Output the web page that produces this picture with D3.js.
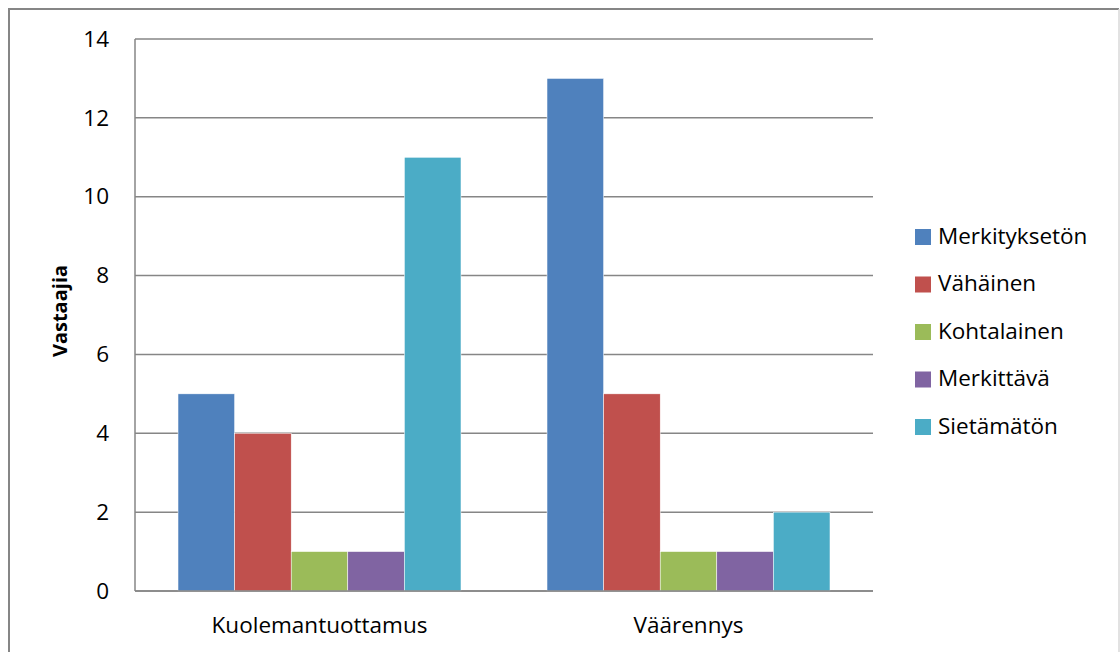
<!DOCTYPE html>
<html><head><meta charset="utf-8">
<script src="https://cdn.jsdelivr.net/npm/d3@7"></script>
<style>body{margin:0;background:#fff}svg{display:block}text{font-family:"Open Sans","Lato",sans-serif}</style>
</head><body>
<svg id="c" width="1120" height="652"></svg>
<script>
const categories = ["Kuolemantuottamus", "Väärennys"];
const seriesNames = ["Merkityksetön", "Vähäinen", "Kohtalainen", "Merkittävä", "Sietämätön"];
const seriesColors = ["#4f81bd", "#c0504d", "#9bbb59", "#8064a2", "#4bacc6"];
const merkitykseton = [5, 13];
const vahainen = [4, 5];
const kohtalainen = [1, 1];
const merkittava = [1, 1];
const sietamaton = [11, 2];
const yTicks = [0, 2, 4, 6, 8, 10, 12, 14];
const yTitle = "Vastaajia";

const seriesValues = [merkitykseton, vahainen, kohtalainen, merkittava, sietamaton];
const FS = 22.5;
const svg = d3.select("#c");
// outer frame
svg.append("path").attr("d","M9,652 V9 H1119").attr("fill","none").attr("stroke","#868686").attr("stroke-width",2);
svg.append("line").attr("x1",1119).attr("x2",1119).attr("y1",9).attr("y2",652).attr("stroke","#d9d9d9").attr("stroke-width",1.5);

const L=135, R=873, T=39, B=591;
const x0 = d3.scaleBand().domain(categories).range([L,R]).paddingInner(0).paddingOuter(0);
const inner = d3.scaleBand().domain(seriesNames).range([0,x0.bandwidth()]).paddingInner(0).paddingOuter(0.76);
const y = d3.scaleLinear().domain([0,14]).range([B,T]);

// gridlines
svg.append("g").selectAll("line").data(yTicks).join("line")
  .attr("x1",L).attr("x2",R).attr("y1",d=>y(d)).attr("y2",d=>y(d))
  .attr("stroke","#868686").attr("stroke-width",1.5);

// bars
const g = svg.append("g");
categories.forEach((c,ci)=>{
  seriesNames.forEach((s,si)=>{
    g.append("rect").attr("x",x0(c)+inner(s)).attr("width",inner.bandwidth())
      .attr("y",y(seriesValues[si][ci])).attr("height",B-y(seriesValues[si][ci]))
      .attr("fill",seriesColors[si]).attr("stroke","#fff").attr("stroke-width",0.5);
  });
});

// axes lines
svg.append("line").attr("x1",L).attr("x2",L).attr("y1",T).attr("y2",B).attr("stroke","#868686").attr("stroke-width",1.5);
svg.append("line").attr("x1",L).attr("x2",R).attr("y1",B).attr("y2",B).attr("stroke","#868686").attr("stroke-width",1.5);

// y tick labels
const ya = d3.axisLeft(y).tickValues(yTicks).tickSize(0).tickPadding(0).tickFormat(d3.format("d"));
const yg = svg.append("g").attr("transform",`translate(${L-26},0)`).call(ya);
yg.select(".domain").remove();
yg.selectAll("text").attr("font-size",FS).attr("fill","#000").attr("font-family","'Open Sans',sans-serif").attr("text-anchor","end");

// x labels
const xa = d3.axisBottom(x0).tickSize(0).tickPadding(0);
const xg = svg.append("g").attr("transform",`translate(0,${B+26})`).call(xa);
xg.select(".domain").remove();
xg.selectAll("text").attr("font-size",FS).attr("fill","#000").attr("font-family","'Open Sans',sans-serif");

// y title
svg.append("text").attr("transform",`translate(67,${(T+B)/2-4}) rotate(-90)`).attr("text-anchor","middle")
  .attr("font-size",20).attr("font-weight","bold").text(yTitle);

// legend
const lg = svg.append("g");
seriesNames.forEach((s,i)=>{
  const cy = 237 + i*47.5;
  lg.append("rect").attr("x",915).attr("y",cy-8).attr("width",16).attr("height",16).attr("fill",seriesColors[i]);
  lg.append("text").attr("x",938).attr("y",cy).attr("dy","0.3em").attr("font-size",FS).text(s);
});
</script>
</body></html>
